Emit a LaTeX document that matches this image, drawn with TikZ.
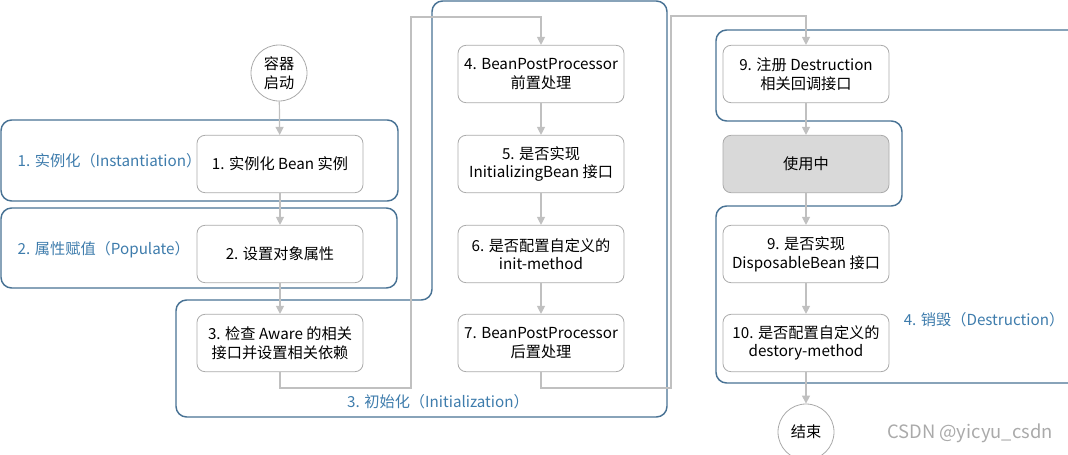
\documentclass[tikz,border=0pt]{standalone}
\usepackage{fontspec}
\setmainfont{Noto Sans CJK SC}
\usepackage{xcolor}
\usepackage{tikz}
\usetikzlibrary{positioning,calc,arrows.meta}

\definecolor{groupblue}{RGB}{72,114,148}
\definecolor{labelblue}{RGB}{62,124,172}
\definecolor{flowgray}{RGB}{192,192,192}
\definecolor{boxgray}{RGB}{170,170,170}
\definecolor{usegray}{RGB}{217,217,217}

\begin{document}
\begin{tikzpicture}[x=0.75pt,y=-0.75pt,
    stage/.style={draw=boxgray,fill=white,rounded corners=6pt,line width=0.6pt,
        minimum width=124.5pt,minimum height=43pt,align=center,
        font=\fontsize{11.4}{14}\selectfont},
    terminal/.style={draw=boxgray,fill=white,circle,line width=0.6pt,minimum size=42pt,
        inner sep=0pt,align=center,font=\fontsize{11.4}{14}\selectfont},
    group/.style={draw=groupblue,line width=1.1pt,rounded corners=8pt},
    grouplabel/.style={text=labelblue,font=\fontsize{11.4}{14}\selectfont},
    flow/.style={draw=flowgray,line width=0.9pt,-{Triangle[width=6pt,length=6pt]}}]
    \useasboundingbox (0,0) rectangle (1068,454);

    % Phase outlines
    \draw [group] (1,120) rectangle (398,201);
    \draw [group] (1,208) rectangle (397,288);
    \draw [group] (176,300) -- (432,300) -- (432,1) -- (667,1) -- (667,417) -- (176,417) -- cycle;
    \draw [group] (1080,30) -- (716,30) -- (716,121) -- (902,121) -- (902,206)
        -- (716,206) -- (716,383) -- (1080,383);

    % Phase labels
    \node [grouplabel,anchor=west] (lblInst) at (13,161) {1. 实例化（Instantiation）};
    \node [grouplabel,anchor=west] (lblPop) at (13,250) {2. 属性赋值（Populate）};
    \node [grouplabel] (lblInit) at (438,402) {3. 初始化（Initialization）};
    \node [grouplabel] (lblDest) at (984,320) {4. 销毁（Destruction）};

    % Left column
    \node [terminal] (start) at (279,73) {容器\\启动};
    \node [stage] (instBean) at (280,164) {1. 实例化 Bean 实例};
    \node [stage] (setProp) at (280,254) {2. 设置对象属性};
    \node [stage] (aware) at (280,343) {3. 检查 Aware 的相关\\接口并设置相关依赖};

    % Middle column
    \node [stage] (preProc) at (541,74) {4. BeanPostProcessor\\前置处理};
    \node [stage] (initBean) at (541,164) {5. 是否实现\\InitializingBean 接口};
    \node [stage] (initMethod) at (541,254) {6. 是否配置自定义的\\init-method};
    \node [stage] (postProc) at (541,343) {7. BeanPostProcessor\\后置处理};

    % Right column
    \node [stage] (regDest) at (806,74) {9. 注册 Destruction\\相关回调接口};
    \node [stage,fill=usegray] (inUse) at (806,164) {使用中};
    \node [stage] (dispBean) at (806,254) {9. 是否实现\\DisposableBean 接口};
    \node [stage] (destMethod) at (806,343) {10. 是否配置自定义的\\destory-method};
    \node [terminal] (finish) at (806,432) {结束};

    % Watermark
    \node [text=boxgray,font=\fontsize{13.8}{15}\selectfont] (mark) at (970,433) {CSDN @yicyu\_csdn};

    % Turning points
    \coordinate (turnA) at (411,388);
    \coordinate (turnB) at (411,17);
    \coordinate (turnC) at (671,388);
    \coordinate (turnD) at (671,16);

    % Connectors
    \draw [flow] (start) -- (instBean);
    \draw [flow] (instBean) -- (setProp);
    \draw [flow] (setProp) -- (aware);
    \draw [flow] (aware.south) |- (turnA) -- (turnB) -| (preProc.north);
    \draw [flow] (preProc) -- (initBean);
    \draw [flow] (initBean) -- (initMethod);
    \draw [flow] (initMethod) -- (postProc);
    \draw [flow] (postProc.south) |- (turnC) -- (turnD) -| (regDest.north);
    \draw [flow] (regDest) -- (inUse);
    \draw [flow] (inUse) -- (dispBean);
    \draw [flow] (dispBean) -- (destMethod);
    \draw [flow] (destMethod) -- (finish);
\end{tikzpicture}
\end{document}
